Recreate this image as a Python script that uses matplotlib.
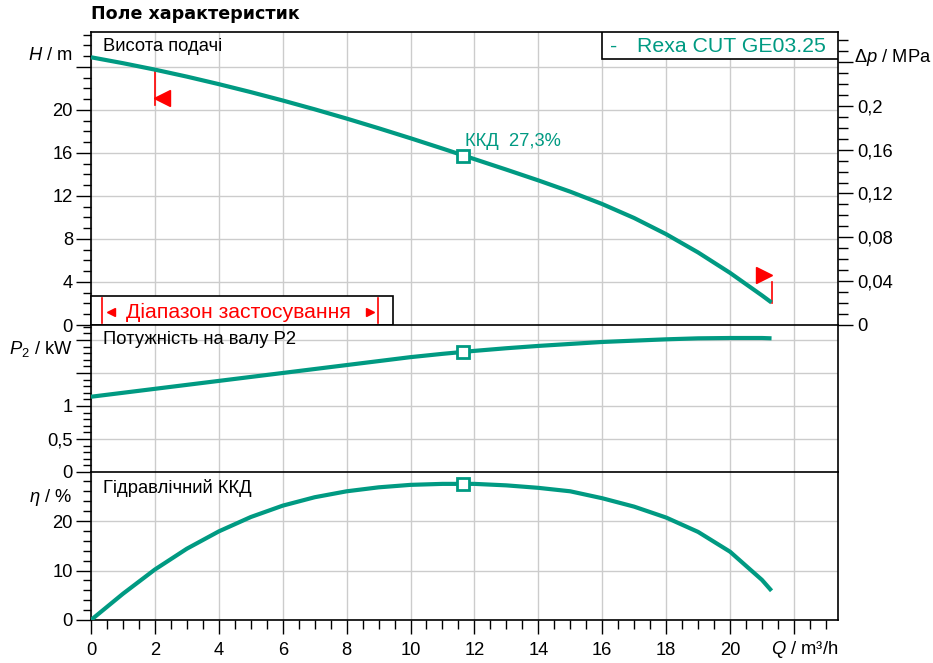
import matplotlib
matplotlib.use('Agg')
import matplotlib.pyplot as plt
from matplotlib.patches import Rectangle
from matplotlib.ticker import MultipleLocator, FixedLocator, FixedFormatter

plt.rcParams['font.family'] = ['Liberation Sans', 'DejaVu Sans']
plt.rcParams['mathtext.fontset'] = 'custom'
plt.rcParams['mathtext.rm'] = 'Liberation Sans'
plt.rcParams['mathtext.it'] = 'Liberation Sans:italic'

TEAL = '#009a82'
GRID = '#cccccc'

# pump curves (Q in m³/h)
q = [0, 1, 2, 3, 4, 5, 6, 7, 8, 9, 10, 11, 12, 13, 14, 15, 16, 17, 18, 19, 20, 21, 21.3]
head = [24.9, 24.35, 23.75, 23.1, 22.4, 21.66, 20.88, 20.06, 19.2, 18.3, 17.37, 16.41,
        15.43, 14.45, 13.45, 12.4, 11.25, 9.95, 8.45, 6.75, 4.85, 2.75, 2.09]
p2 = [1.14, 1.20, 1.26, 1.32, 1.38, 1.44, 1.50, 1.56, 1.62, 1.68, 1.74, 1.79, 1.835,
      1.875, 1.91, 1.94, 1.97, 1.99, 2.01, 2.025, 2.03, 2.03, 2.025]
eta = [0, 5.3, 10.2, 14.4, 17.9, 20.8, 23.1, 24.8, 26.0, 26.8, 27.3, 27.5, 27.5,
       27.2, 26.7, 26.0, 24.6, 22.9, 20.7, 17.8, 13.8, 8.1, 5.9]

# duty point
duty_q = 11.65
duty_h = 15.75
duty_p2 = 1.82
duty_eta = 27.55
duty_label = 'ККД  27,3%'

# application range
range_lo = 2.0
range_hi = 21.3

h_ticks = [0, 4, 8, 12, 16, 20, 24]
h_labels = ['0', '4', '8', '12', '16', '20', '']
dp_ticks = [0, 0.04, 0.08, 0.12, 0.16, 0.2, 0.24]
dp_labels = ['0', '0,04', '0,08', '0,12', '0,16', '0,2', '']
p_ticks = [0, 0.5, 1, 1.5, 2]
p_labels = ['0', '0,5', '1', '', '']
eta_ticks = [0, 10, 20]
eta_labels = ['0', '10', '20']
q_ticks = [0, 2, 4, 6, 8, 10, 12, 14, 16, 18, 20, 22]
q_labels = ['0', '2', '4', '6', '8', '10', '12', '14', '16', '18', '20', '']

XMAX = 23.38
HMAX = 27.25
PMAX = 2.227
EMAX = 29.9
FS = 13.2

fig = plt.figure(figsize=(9.33, 6.63), dpi=100)
L, W = 91 / 933, 747 / 933
ax_h = fig.add_axes([L, 1 - 325 / 663, W, 293 / 663])
ax_p = fig.add_axes([L, 1 - 472 / 663, W, 147 / 663])
ax_e = fig.add_axes([L, 1 - 620 / 663, W, 148 / 663])


def style(ax, ymax, ticks, labels, minor):
    ax.set_xlim(0, XMAX)
    ax.set_ylim(0, ymax)
    ax.set_axisbelow(True)
    ax.xaxis.set_major_locator(FixedLocator(q_ticks))
    ax.xaxis.set_minor_locator(MultipleLocator(0.5))
    ax.yaxis.set_major_locator(FixedLocator(ticks))
    ax.yaxis.set_major_formatter(FixedFormatter(labels))
    ax.yaxis.set_minor_locator(MultipleLocator(minor))
    ax.grid(True, which='major', color=GRID, lw=1)
    ax.tick_params(axis='y', which='major', length=11, width=1, pad=2, labelsize=FS)
    ax.tick_params(axis='y', which='minor', length=6, width=1)
    ax.tick_params(axis='x', which='both', bottom=False, labelbottom=False)
    for s in ax.spines.values():
        s.set_linewidth(1.2)


style(ax_h, HMAX, h_ticks, h_labels, 1)
style(ax_p, PMAX, p_ticks, p_labels, 0.1)
style(ax_e, EMAX, eta_ticks, eta_labels, 2)
ax_h.spines['bottom'].set_visible(False)
ax_p.spines['bottom'].set_visible(False)

ax_e.xaxis.set_major_formatter(FixedFormatter(q_labels))
ax_e.tick_params(axis='x', which='major', bottom=True, labelbottom=True,
                 length=10, width=1, pad=6, labelsize=FS)
ax_e.tick_params(axis='x', which='minor', bottom=True, length=6.5, width=1)

# pressure axis on the right
ax_dp = ax_h.twinx()
ax_dp.set_ylim(0, HMAX * 0.00981)
ax_dp.yaxis.set_major_locator(FixedLocator(dp_ticks))
ax_dp.yaxis.set_major_formatter(FixedFormatter(dp_labels))
ax_dp.yaxis.set_minor_locator(MultipleLocator(0.01))
ax_dp.tick_params(axis='y', which='major', length=11, width=1, pad=3, labelsize=FS)
ax_dp.tick_params(axis='y', which='minor', length=7, width=1)
for s in ax_dp.spines.values():
    s.set_visible(False)

# curves
mk = dict(marker='s', markersize=8, markerfacecolor='white', markeredgecolor=TEAL,
          markeredgewidth=2, zorder=5)
ax_h.plot(q, head, color=TEAL, lw=3, solid_capstyle='butt', zorder=4)
ax_h.plot([duty_q], [duty_h], **mk)
ax_p.plot(q, p2, color=TEAL, lw=3, solid_capstyle='butt', zorder=4)
ax_p.plot([duty_q], [duty_p2], **mk)
ax_e.plot(q, eta, color=TEAL, lw=3, solid_capstyle='butt', zorder=4)
ax_e.plot([duty_q], [duty_eta], **mk)
ax_h.annotate(duty_label, (duty_q, duty_h), xytext=(1, 4), textcoords='offset points',
              color=TEAL, fontsize=FS, ha='left', va='bottom')

# application range markers
h_lo = head[q.index(range_lo)]
ax_h.plot([range_lo, range_lo], [h_lo, h_lo - 3.3], color='red', lw=1.2, zorder=3)
ax_h.plot([range_lo + 0.23], [h_lo - 2.6], marker='<', color='red', markersize=11,
          linestyle='none', zorder=6)
h_hi = head[-1]
ax_h.plot([range_hi, range_hi], [h_hi, h_hi + 1.9], color='red', lw=1.2, zorder=3)
ax_h.plot([range_hi - 0.25], [h_hi + 2.55], marker='>', color='red', markersize=11,
          linestyle='none', zorder=6)

# range box
ax_h.add_patch(Rectangle((0, 0), 9.45, 2.7, facecolor='white', edgecolor='black',
                         lw=1.2, zorder=7, clip_on=False))
ax_h.plot([0.34, 0.34], [0.2, 2.5], color='red', lw=1.2, zorder=8)
ax_h.plot([8.98, 8.98], [0.2, 2.5], color='red', lw=1.2, zorder=8)
ax_h.plot([0.63], [1.25], marker='<', color='red', markersize=6, linestyle='none', zorder=8)
ax_h.plot([8.74], [1.25], marker='>', color='red', markersize=6, linestyle='none', zorder=8)
ax_h.text(4.6, 1.15, 'Діапазон застосування', color='red', fontsize=15.3,
          ha='center', va='center', zorder=8)

# legend box
ax_h.add_patch(Rectangle((0.684, 0.908), 0.316, 0.092, transform=ax_h.transAxes,
                         facecolor='white', edgecolor='black', lw=1.2, zorder=7))
ax_h.text(0.695, 0.952, '-', transform=ax_h.transAxes, color=TEAL, fontsize=15.3,
          ha='left', va='center', zorder=8)
ax_h.text(0.731, 0.952, 'Rexa CUT GE03.25', transform=ax_h.transAxes, color=TEAL,
          fontsize=15.3, ha='left', va='center', zorder=8)

# panel titles
ax_h.text(0.016, 0.949, 'Висота подачі', transform=ax_h.transAxes, fontsize=FS,
          ha='left', va='center')
ax_p.text(0.016, 0.898, 'Потужність на валу P2', transform=ax_p.transAxes, fontsize=FS,
          ha='left', va='center')
ax_e.text(0.016, 0.892, 'Гідравлічний ККД', transform=ax_e.transAxes, fontsize=FS,
          ha='left', va='center')

# axis labels
ax_h.text(-0.025, 25.1, '$H$ / m', transform=ax_h.get_yaxis_transform(), fontsize=FS,
          ha='right', va='center')
ax_p.text(-0.025, 1.86, '$P_2$ / kW', transform=ax_p.get_yaxis_transform(), fontsize=FS,
          ha='right', va='center')
ax_e.text(-0.025, 24.8, '$\\eta$ / %', transform=ax_e.get_yaxis_transform(), fontsize=FS,
          ha='right', va='center')
ax_h.text(1.022, 24.9, '$\\Delta p$ / MPa', transform=ax_h.get_yaxis_transform(),
          fontsize=FS, ha='left', va='center')
ax_e.text(1.0, -30 / 148, '$Q$ / m³/h', transform=ax_e.transAxes, fontsize=FS,
          ha='right', va='center')

fig.text(L, 1 - 14 / 663, 'Поле характеристик', fontsize=12.6, fontweight='bold',
         family='DejaVu Sans', ha='left', va='center')

fig.savefig('out.png', dpi=100)
